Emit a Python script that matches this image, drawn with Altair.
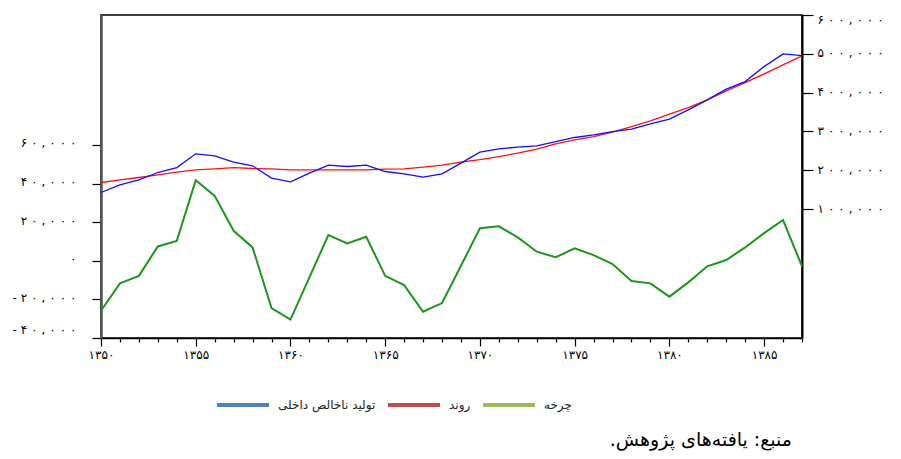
import altair as alt
import pandas as pd

years = [1350, 1351, 1352, 1353, 1354, 1355, 1356, 1357, 1358, 1359,
         1360, 1361, 1362, 1363, 1364, 1365, 1366, 1367, 1368, 1369,
         1370, 1371, 1372, 1373, 1374, 1375, 1376, 1377, 1378, 1379,
         1380, 1381, 1382, 1383, 1384, 1385, 1386, 1387]

gdp = [142800, 162600, 175500, 194300, 207100, 242400, 237200, 221000, 211500, 179900,
       170300, 192700, 213300, 209700, 213300, 196900, 190900, 182400, 190900, 218500,
       246800, 255300, 259600, 263000, 274000, 284500, 291300, 299800, 306000, 319600,
       331700, 355600, 381400, 408900, 428400, 467000, 499700, 495400]

trend = [168500, 175500, 181400, 188400, 195300, 201200, 203800, 207100, 204600, 203800,
         201200, 201200, 201200, 201200, 201200, 203000, 203800, 208200, 213300, 221000,
         227700, 235400, 244200, 254500, 268100, 278500, 286900, 298200, 312600, 327300,
         344600, 361500, 381400, 404500, 425900, 448300, 471400, 494600]

cycle = [-25900, -11700, -7800, 7400, 10300, 41700, 33600, 15500, 6900, -24500,
         -30500, -8600, 13300, 9000, 12400, -7800, -12600, -26400, -21900, -2600,
         16800, 17800, 12100, 4700, 1800, 6400, 2900, -1700, -10500, -11700,
         -18600, -11200, -2900, 400, 6900, 14300, 21100, -2900]

x_ticks = [1350, 1355, 1360, 1365, 1370, 1375, 1380, 1385]
x_labels = ["۱۳۵۰", "۱۳۵۵", "۱۳۶۰", "۱۳۶۵", "۱۳۷۰", "۱۳۷۵", "۱۳۸۰", "۱۳۸۵"]

left_ticks = [-40000, -20000, 0, 20000, 40000, 60000]
left_labels = ["-۴۰,۰۰۰", "-۲۰,۰۰۰", "۰", "۲۰,۰۰۰", "۴۰,۰۰۰", "۶۰,۰۰۰"]

right_ticks = [100000, 200000, 300000, 400000, 500000, 600000]
right_labels = ["۱۰۰,۰۰۰", "۲۰۰,۰۰۰", "۳۰۰,۰۰۰", "۴۰۰,۰۰۰", "۵۰۰,۰۰۰", "۶۰۰,۰۰۰"]

series_names = ["تولید ناخالص داخلی", "روند", "چرخه"]
legend_colors = ["#4F81BD", "#C0504D", "#9BBB59"]
line_colors = ["#1010FF", "#FF1010", "#1E961E"]

source_text = "منبع: یافته‌های پژوهش.\u200f"

FONT = "DejaVu Sans"


def spaced(s):
    return "\u2004".join(s)


def label_expr(vals, labels):
    parts = "".join(f"datum.value == {v} ? '{l}' : " for v, l in zip(vals, labels))
    return parts + "''"


df = pd.DataFrame({"year": years, "gdp": gdp, "trend": trend, "cycle": cycle})

x_enc = alt.X(
    "year:Q",
    scale=alt.Scale(domain=[1350, 1387], nice=False, zero=False),
    axis=alt.Axis(
        values=years,
        labelExpr=label_expr(x_ticks, x_labels),
        tickSize={"condition": {"test": "datum.value % 5 === 0", "value": 8}, "value": 4},
        title=None,
        grid=False,
        domainColor="black",
        domainWidth=1.5,
        tickColor="black",
        tickWidth=1.2,
        labelFont=FONT,
        labelFontSize=12,
        labelColor="black",
        labelPadding=3,
        labelAngle=0,
        labelFlush=False,
    ),
)

left_axis = alt.Axis(
    orient="left",
    values=left_ticks,
    labelExpr=label_expr(left_ticks, [spaced(s) for s in left_labels]),
    title=None,
    grid=False,
    tickSize=9,
    tickColor="black",
    tickWidth=1.2,
    labelPadding=16,
    labelFlush=True,
    labelOffset=-2,
    labelFont=FONT,
    labelFontSize=12,
    labelColor="black",
    domainColor="#555555",
    domainWidth=2.5,
)

right_axis = alt.Axis(
    orient="right",
    values=right_ticks,
    labelExpr=label_expr(right_ticks, [spaced(s) for s in right_labels]),
    title=None,
    grid=False,
    tickSize=11,
    tickColor="black",
    tickWidth=1.2,
    labelPadding=4,
    labelFlush=True,
    labelOffset=-1,
    labelFont=FONT,
    labelFontSize=12,
    labelColor="black",
    labelAlign="left",
    domainColor="black",
    domainWidth=2,
)

base = alt.Chart(df)

cycle_line = base.mark_line(color=line_colors[2], strokeWidth=2).encode(
    x=x_enc,
    y=alt.Y("cycle:Q", scale=alt.Scale(domain=[-40000, 127250], nice=False, zero=False), axis=left_axis),
)

right_scale = alt.Scale(domain=[-232000, 600000], nice=False, zero=False)

trend_line = base.mark_line(color=line_colors[1], strokeWidth=1.3).encode(
    x=x_enc,
    y=alt.Y("trend:Q", scale=right_scale, axis=right_axis),
)
gdp_line = base.mark_line(color=line_colors[0], strokeWidth=1.3).encode(
    x=x_enc,
    y=alt.Y("gdp:Q", scale=right_scale, axis=right_axis),
)
right_layer = alt.layer(trend_line, gdp_line)

legend_layer = alt.Chart(pd.DataFrame({"series": series_names})).mark_point(opacity=0).encode(
    color=alt.Color(
        "series:N",
        scale=alt.Scale(domain=series_names, range=legend_colors),
        legend=alt.Legend(
            orient="none",
            legendX=114,
            legendY=362,
            direction="horizontal",
            title=None,
            symbolType="stroke",
            symbolSize=2704,
            symbolStrokeWidth=4,
            symbolOpacity=1,
            labelFont=FONT,
            labelFontSize=12,
            labelColor="#222222",
            labelOffset=7,
            columnPadding=4,
        ),
    )
)

chart = (
    alt.layer(cycle_line, right_layer, legend_layer)
    .resolve_scale(y="independent", color="independent")
    .properties(
        width=701,
        height=323,
        autosize=alt.AutoSizeParams(type="none"),
        padding={"left": 93, "top": 7, "right": 85, "bottom": 113},
        title=alt.TitleParams(
            source_text,
            orient="bottom",
            anchor="end",
            frame="group",
            fontSize=19,
            fontWeight="normal",
            font=FONT,
            color="black",
            baseline="middle",
            offset=27,
            dx=-10,
        ),
        background="white",
    )
    .configure_view(stroke="black", strokeWidth=1.5)
)

chart.save("out.html", embed_options={"renderer": "svg", "actions": False})
